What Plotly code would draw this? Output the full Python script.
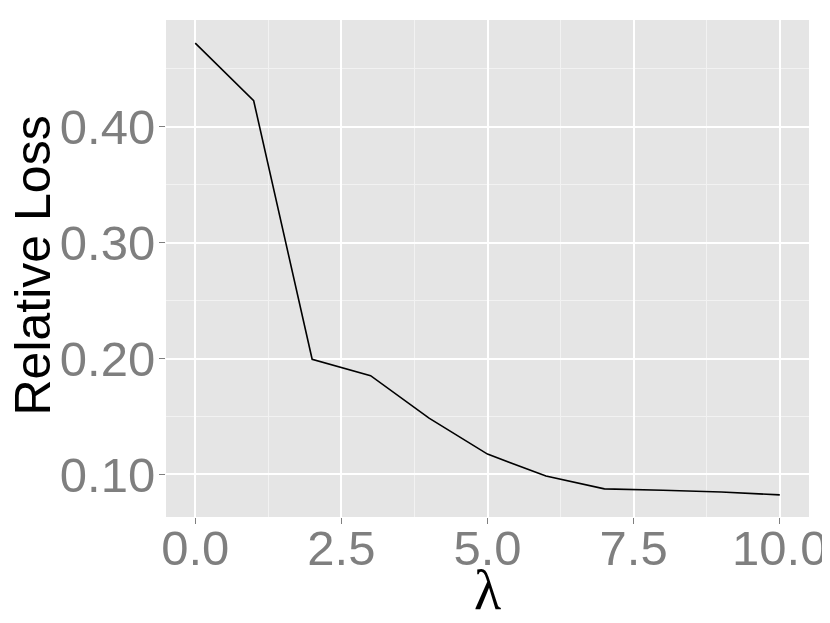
import plotly.graph_objects as go

lam = [0, 1, 2, 3, 4, 5, 6, 7, 8, 9, 10]
rel_loss = [0.4723, 0.4225, 0.1994, 0.1853, 0.1486, 0.1176, 0.0986, 0.0876, 0.0864, 0.0849, 0.0824]

x_ticks = [0, 2.5, 5, 7.5, 10]
x_tick_labels = ["0.0", "2.5", "5.0", "7.5", "10.0"]
y_ticks = [0.1, 0.2, 0.3, 0.4]
y_tick_labels = ["0.10", "0.20", "0.30", "0.40"]

fig = go.Figure()
fig.add_trace(go.Scatter(x=lam, y=rel_loss, mode="lines",
                         line=dict(color="black", width=1.6), showlegend=False))

tickfont = dict(family="Liberation Sans, Arial, sans-serif", size=49, color="#7f7f7f")
fig.update_layout(
    width=822, height=615,
    margin=dict(l=158, r=21, t=12, b=106),
    paper_bgcolor="white",
    plot_bgcolor="#E5E5E5",
    xaxis=dict(
        range=[-0.5, 10.5], tickmode="array", tickvals=x_ticks, ticktext=x_tick_labels,
        showgrid=True, gridcolor="white", gridwidth=1.6, zeroline=False,
        ticks="outside", ticklen=6, tickcolor="#7f7f7f", tickwidth=1.2,
        tickfont=tickfont, showline=False, automargin=False, ticklabelstandoff=-18,
        minor=dict(dtick=1.25, tick0=0, showgrid=True, gridcolor="#F2F2F2", gridwidth=1, ticks=""),
    ),
    yaxis=dict(
        range=[0.0633, 0.4922], tickmode="array", tickvals=y_ticks, ticktext=y_tick_labels,
        showgrid=True, gridcolor="white", gridwidth=1.6, zeroline=False,
        ticks="outside", ticklen=6, tickcolor="#7f7f7f", tickwidth=1.2,
        tickfont=tickfont, showline=False, automargin=False, ticklabelstandoff=-6,
        minor=dict(dtick=0.05, tick0=0, showgrid=True, gridcolor="#F2F2F2", gridwidth=1, ticks=""),
    ),
    annotations=[
        dict(text="λ", xref="paper", yref="paper", x=0.5, y=0, yshift=-40,
             xanchor="center", yanchor="top", showarrow=False,
             font=dict(family="Liberation Serif, serif", size=56, color="black")),
        dict(text="Relative Loss", xref="paper", yref="paper", x=0, y=0.5, xshift=-104, yshift=3,
             xanchor="right", yanchor="middle", textangle=-90, showarrow=False,
             font=dict(family="Liberation Sans, Arial, sans-serif", size=50, color="black")),
    ],
)

fig.write_html("out.html")
